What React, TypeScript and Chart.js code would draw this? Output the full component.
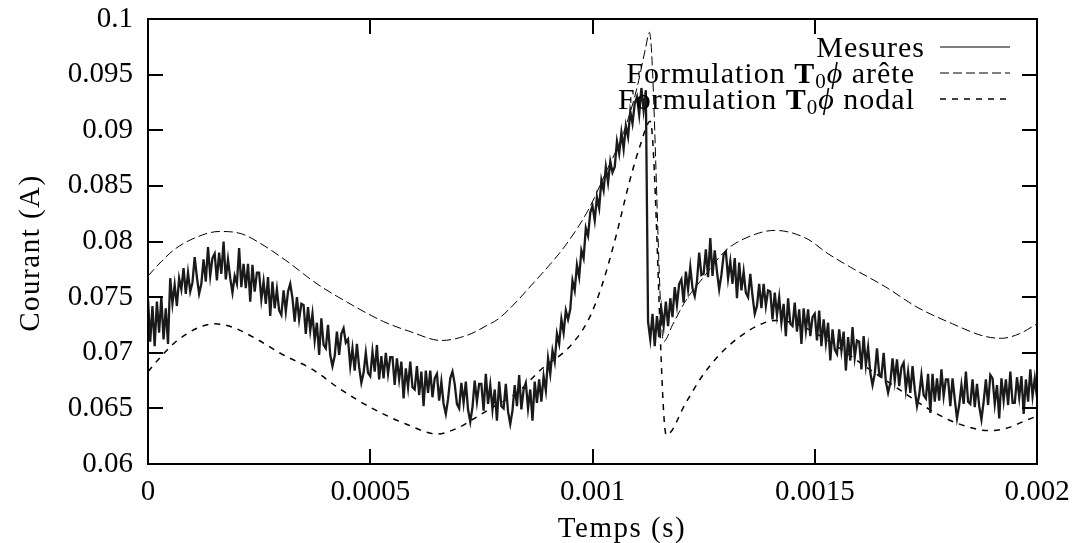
import React, { useEffect, useRef } from "react";
import { Chart, registerables } from "chart.js";

Chart.register(...registerables);

// ---- Axis ticks ----
const xTickValues = [0, 0.0005, 0.001, 0.0015, 0.002];
const xTickLabels = ["0", "0.0005", "0.001", "0.0015", "0.002"];
const yTickValues = [0.06, 0.065, 0.07, 0.075, 0.08, 0.085, 0.09, 0.095, 0.1];
const yTickLabels = ["0.06", "0.065", "0.07", "0.075", "0.08", "0.085", "0.09", "0.095", "0.1"];

const xTitle = "Temps (s)";
const yTitle = "Courant (A)";
const seriesLabels = ["Mesures", "Formulation T\u2080\u03d5 ar\u00eate", "Formulation T\u2080\u03d5 nodal"];

// ---- Measured current (sampled every 5 µs from t = 0) ----
const mesuresPeriod = 5e-6;
const mesures = [
  0.0748, 0.0710, 0.0742, 0.0706, 0.0746, 0.0718, 0.0750, 0.0712, 0.0740, 0.0708,
  0.0767, 0.0744, 0.0761, 0.0742, 0.0767, 0.0757, 0.0776, 0.0753, 0.0772, 0.0755,
  0.0763, 0.0786, 0.0768, 0.0753, 0.0762, 0.0784, 0.0764, 0.0795, 0.0769, 0.0785,
  0.0789, 0.0765, 0.0790, 0.0771, 0.0800, 0.0766, 0.0784, 0.0767, 0.0754, 0.0769,
  0.0762, 0.0794, 0.0759, 0.0780, 0.0758, 0.0780, 0.0746, 0.0779, 0.0755, 0.0772,
  0.0772, 0.0748, 0.0764, 0.0744, 0.0768, 0.0733, 0.0764, 0.0740, 0.0757, 0.0738,
  0.0734, 0.0756, 0.0737, 0.0755, 0.0762, 0.0749, 0.0728, 0.0750, 0.0730, 0.0744,
  0.0743, 0.0717, 0.0741, 0.0720, 0.0735, 0.0711, 0.0727, 0.0698, 0.0731, 0.0707,
  0.0704, 0.0725, 0.0698, 0.0688, 0.0697, 0.0719, 0.0698, 0.0717, 0.0722, 0.0709,
  0.0712, 0.0688, 0.0704, 0.0684, 0.0708, 0.0687, 0.0673, 0.0682, 0.0700, 0.0682,
  0.0679, 0.0701, 0.0683, 0.0707, 0.0676, 0.0697, 0.0677, 0.0700, 0.0681, 0.0696,
  0.0696, 0.0671, 0.0695, 0.0676, 0.0692, 0.0659, 0.0686, 0.0669, 0.0692, 0.0669,
  0.0667, 0.0688, 0.0662, 0.0683, 0.0652, 0.0684, 0.0664, 0.0684, 0.0660, 0.0677,
  0.0681, 0.0657, 0.0674, 0.0654, 0.0645, 0.0658, 0.0677, 0.0683, 0.0672, 0.0654,
  0.0650, 0.0673, 0.0655, 0.0674, 0.0649, 0.0638, 0.0651, 0.0675, 0.0656, 0.0672,
  0.0672, 0.0648, 0.0681, 0.0654, 0.0671, 0.0649, 0.0667, 0.0639, 0.0674, 0.0652,
  0.0650, 0.0672, 0.0647, 0.0636, 0.0648, 0.0671, 0.0652, 0.0680, 0.0649, 0.0667,
  0.0673, 0.0650, 0.0667, 0.0639, 0.0674, 0.0655, 0.0676, 0.0656, 0.0679, 0.0666,
  0.0695, 0.0681, 0.0702, 0.0692, 0.0717, 0.0708, 0.0730, 0.0718, 0.0738, 0.0730,
  0.0739, 0.0765, 0.0756, 0.0779, 0.0768, 0.0792, 0.0785, 0.0812, 0.0805, 0.0826,
  0.0832, 0.0819, 0.0840, 0.0830, 0.0855, 0.0846, 0.0867, 0.0853, 0.0872, 0.0862,
  0.0867, 0.0890, 0.0879, 0.0898, 0.0883, 0.0904, 0.0894, 0.0917, 0.0906, 0.0924,
  0.0930, 0.0914, 0.0938, 0.0918, 0.0936, 0.0728, 0.0712, 0.0735, 0.0706, 0.0733,
  0.0714, 0.0739, 0.0724, 0.0746, 0.0724, 0.0749, 0.0732, 0.0759, 0.0743, 0.0762,
  0.0766, 0.0745, 0.0773, 0.0757, 0.0777, 0.0758, 0.0751, 0.0764, 0.0790, 0.0770,
  0.0771, 0.0793, 0.0768, 0.0803, 0.0769, 0.0792, 0.0773, 0.0757, 0.0770, 0.0788,
  0.0791, 0.0767, 0.0782, 0.0762, 0.0785, 0.0749, 0.0781, 0.0756, 0.0773, 0.0754,
  0.0750, 0.0771, 0.0751, 0.0735, 0.0742, 0.0762, 0.0740, 0.0762, 0.0742, 0.0756,
  0.0755, 0.0730, 0.0754, 0.0734, 0.0750, 0.0727, 0.0744, 0.0715, 0.0749, 0.0726,
  0.0724, 0.0745, 0.0719, 0.0739, 0.0708, 0.0740, 0.0720, 0.0739, 0.0715, 0.0732,
  0.0735, 0.0711, 0.0738, 0.0706, 0.0730, 0.0709, 0.0727, 0.0693, 0.0721, 0.0703,
  0.0699, 0.0721, 0.0702, 0.0719, 0.0684, 0.0714, 0.0693, 0.0723, 0.0696, 0.0711,
  0.0710, 0.0685, 0.0715, 0.0689, 0.0705, 0.0682, 0.0671, 0.0681, 0.0704, 0.0681,
  0.0679, 0.0700, 0.0674, 0.0664, 0.0673, 0.0695, 0.0675, 0.0694, 0.0670, 0.0687,
  0.0691, 0.0667, 0.0683, 0.0664, 0.0688, 0.0667, 0.0652, 0.0662, 0.0680, 0.0662,
  0.0659, 0.0681, 0.0646, 0.0681, 0.0656, 0.0677, 0.0657, 0.0685, 0.0661, 0.0676,
  0.0676, 0.0652, 0.0677, 0.0658, 0.0641, 0.0653, 0.0671, 0.0654, 0.0683, 0.0656,
  0.0654, 0.0676, 0.0651, 0.0672, 0.0652, 0.0640, 0.0656, 0.0676, 0.0653, 0.0680,
  0.0677, 0.0654, 0.0671, 0.0641, 0.0677, 0.0657, 0.0676, 0.0653, 0.0683, 0.0655,
  0.0655, 0.0678, 0.0660, 0.0679, 0.0645, 0.0676, 0.0656, 0.0685, 0.0661, 0.0677,
  0.0660,
];

// ---- Formulation T0 phi, edge ("arête") ----
const areteTime = [
  0, 0.00003, 0.00006, 0.00011, 0.00016, 0.00021, 0.00025, 0.00031, 0.00038, 0.00045,
  0.00053, 0.00059, 0.00066, 0.00072, 0.00076, 0.00079, 0.00087, 0.00094, 0.00099, 0.00103,
  0.00107, 0.0011, 0.00112, 0.001128, 0.00116, 0.00118, 0.00121, 0.00125, 0.0013, 0.00135,
  0.00141, 0.00148, 0.00153, 0.00158, 0.00166, 0.00173, 0.00181, 0.00188, 0.00192, 0.00196,
  0.002,
];
const areteValues = [
  0.0769, 0.0782, 0.0793, 0.0804, 0.0809, 0.0807, 0.0799, 0.0783, 0.0762, 0.0745,
  0.0728, 0.0719, 0.0711, 0.0716, 0.0724, 0.0731, 0.0764, 0.0797, 0.0828, 0.0862,
  0.0898, 0.0938, 0.0975, 0.0988, 0.0710, 0.0725, 0.0747, 0.0768, 0.0792, 0.0804,
  0.0810, 0.0803, 0.0789, 0.0777, 0.0759, 0.0741, 0.0726, 0.0715, 0.0713, 0.0717,
  0.0726,
];

// ---- Formulation T0 phi, nodal ----
const nodalTime = [
  0, 0.00003, 0.00006, 0.00011, 0.00015, 0.00019, 0.00025, 0.0003, 0.00037, 0.00043,
  0.0005, 0.00058, 0.00065, 0.0007, 0.00073, 0.00078, 0.00083, 0.00089, 0.000945, 0.00099,
  0.00102, 0.001053, 0.001084, 0.001107, 0.00113, 0.001166, 0.00121, 0.001245, 0.00129, 0.00133,
  0.00137, 0.00141, 0.00145, 0.0015, 0.00156, 0.00162, 0.00169, 0.00175, 0.0018, 0.00184,
  0.00189, 0.00193, 0.00198, 0.002,
];
const nodalValues = [
  0.0683, 0.0697, 0.0709, 0.0722, 0.0726, 0.0723, 0.0711, 0.0699, 0.0685, 0.0668,
  0.0651, 0.0636, 0.0627, 0.0633, 0.0640, 0.0652, 0.0664, 0.0687, 0.0704, 0.0729,
  0.0759, 0.0805, 0.0855, 0.0886, 0.0908, 0.0626, 0.0655, 0.0678, 0.0700, 0.0714,
  0.0724, 0.0729, 0.0727, 0.0718, 0.0703, 0.0686, 0.0667, 0.0651, 0.0640, 0.0634,
  0.0630, 0.0632, 0.0640, 0.0643,
];

const FONT = '"Liberation Serif", "DejaVu Serif", serif';

type Part = { text: string; font: string; dy?: number };

function drawRich(ctx: CanvasRenderingContext2D, parts: Part[], rightX: number, baseline: number, spacing: string) {
  ctx.save();
  (ctx as any).letterSpacing = spacing;
  ctx.textAlign = "left";
  ctx.textBaseline = "alphabetic";
  ctx.fillStyle = "#000";
  const widths = parts.map((p) => {
    ctx.font = p.font;
    return ctx.measureText(p.text).width;
  });
  const total = widths.reduce((a, b) => a + b, 0);
  let x = rightX - total;
  parts.forEach((p, i) => {
    ctx.font = p.font;
    ctx.fillText(p.text, x, baseline + (p.dy || 0));
    x += widths[i];
  });
  ctx.restore();
}

const decorPlugin = {
  id: "gnuplotDecor",
  afterDraw(chart: any) {
    const { ctx, chartArea: a, scales } = chart;
    ctx.save();
    // frame
    ctx.strokeStyle = "#000";
    ctx.lineWidth = 2;
    ctx.setLineDash([]);
    ctx.strokeRect(a.left, a.top, a.right - a.left, a.bottom - a.top);
    // inward ticks on all four sides
    const L = 15;
    ctx.beginPath();
    xTickValues.forEach((v) => {
      const px = Math.round(scales.x.getPixelForValue(v));
      ctx.moveTo(px, a.bottom);
      ctx.lineTo(px, a.bottom - L);
      ctx.moveTo(px, a.top);
      ctx.lineTo(px, a.top + L);
    });
    yTickValues.forEach((v) => {
      const py = Math.round(scales.y.getPixelForValue(v));
      ctx.moveTo(a.left, py);
      ctx.lineTo(a.left + L, py);
      ctx.moveTo(a.right, py);
      ctx.lineTo(a.right - L, py);
    });
    ctx.stroke();

    // axis titles
    ctx.fillStyle = "#000";
    (ctx as any).letterSpacing = "1.5px";
    ctx.font = `29px ${FONT}`;
    ctx.textAlign = "center";
    ctx.textBaseline = "middle";
    ctx.fillText(xTitle, 622, 529);
    ctx.save();
    ctx.translate(31, 253);
    ctx.rotate(-Math.PI / 2);
    ctx.fillText(yTitle, 0, 0);
    ctx.restore();
    (ctx as any).letterSpacing = "0px";

    // legend
    const f = `30px ${FONT}`;
    const fb = `bold 30px ${FONT}`;
    const fs = `21px ${FONT}`;
    const fi = `italic 30px ${FONT}`;
    drawRich(ctx, [{ text: seriesLabels[0], font: f }], 925, 57, "1px");
    drawRich(
      ctx,
      [
        { text: "Formulation ", font: f },
        { text: "T", font: fb },
        { text: "0", font: fs, dy: 5 },
        { text: "\u03d5", font: fi },
        { text: " ar\u00eate", font: f },
      ],
      915,
      83,
      "1px"
    );
    drawRich(
      ctx,
      [
        { text: "Formulation ", font: f },
        { text: "T", font: fb },
        { text: "0", font: fs, dy: 5 },
        { text: "\u03d5", font: fi },
        { text: " nodal", font: f },
      ],
      915,
      109,
      "1px"
    );
    const samples: { y: number; dash: number[]; w: number }[] = [
      { y: 47, dash: [], w: 1 },
      { y: 73, dash: [9, 4], w: 1 },
      { y: 99, dash: [6, 6], w: 1.5 },
    ];
    samples.forEach((s) => {
      ctx.beginPath();
      ctx.setLineDash(s.dash);
      ctx.lineWidth = s.w;
      ctx.moveTo(940, s.y);
      ctx.lineTo(1010, s.y);
      ctx.stroke();
    });
    ctx.restore();
  },
};

const zeroPad = (s: any) => {
  s.paddingTop = 0;
  s.paddingBottom = 0;
  s.paddingLeft = 0;
  s.paddingRight = 0;
};

export default function App() {
  const ref = useRef<HTMLCanvasElement | null>(null);

  useEffect(() => {
    if (!ref.current) return;
    const chart = new Chart(ref.current, {
      type: "line",
      data: {
        datasets: [
          {
            label: seriesLabels[0],
            data: mesures.map((v, i) => ({ x: i * mesuresPeriod, y: v })),
            borderColor: "#1a1a1a",
            borderWidth: 2.3,
            pointRadius: 0,
            tension: 0,
            borderJoinStyle: "miter",
          },
          {
            label: seriesLabels[1],
            data: areteTime.map((t, i) => ({ x: t, y: areteValues[i] })),
            borderColor: "#000",
            borderWidth: 1,
            borderDash: [9, 4],
            pointRadius: 0,
            cubicInterpolationMode: "monotone",
          },
          {
            label: seriesLabels[2],
            data: nodalTime.map((t, i) => ({ x: t, y: nodalValues[i] })),
            borderColor: "#000",
            borderWidth: 1.5,
            borderDash: [6, 6],
            pointRadius: 0,
            cubicInterpolationMode: "monotone",
          },
        ],
      },
      options: {
        animation: false,
        responsive: false,
        devicePixelRatio: 1,
        events: [],
        layout: { padding: { top: 19, right: 38, left: 0, bottom: 0 } },
        plugins: { legend: { display: false }, tooltip: { enabled: false } },
        scales: {
          x: {
            type: "linear",
            min: 0,
            max: 0.002,
            grid: { display: false, drawTicks: false },
            border: { display: false },
            afterFit: (s: any) => {
              s.height = 79;
              zeroPad(s);
            },
            afterBuildTicks: (s: any) => {
              s.ticks = xTickValues.map((v) => ({ value: v }));
            },
            ticks: {
              autoSkip: false,
              maxRotation: 0,
              padding: 11,
              color: "#000",
              font: { family: FONT, size: 29 },
              callback: (_v: any, i: number) => xTickLabels[i],
            },
          },
          y: {
            type: "linear",
            min: 0.06,
            max: 0.1,
            grid: { display: false, drawTicks: false },
            border: { display: false },
            afterFit: (s: any) => {
              s.width = 148;
              zeroPad(s);
            },
            afterBuildTicks: (s: any) => {
              s.ticks = yTickValues.map((v) => ({ value: v }));
            },
            ticks: {
              autoSkip: false,
              padding: 15,
              color: "#000",
              font: { family: FONT, size: 29 },
              callback: (_v: any, i: number) => yTickLabels[i],
            },
          },
        },
      },
      plugins: [decorPlugin],
    } as any);
    return () => chart.destroy();
  }, []);

  return (
    <div style={{ position: "fixed", left: 0, top: 0, width: 1075, height: 543, background: "#fff" }}>
      <canvas ref={ref} width={1075} height={543} style={{ width: 1075, height: 543, display: "block" }} />
    </div>
  );
}
